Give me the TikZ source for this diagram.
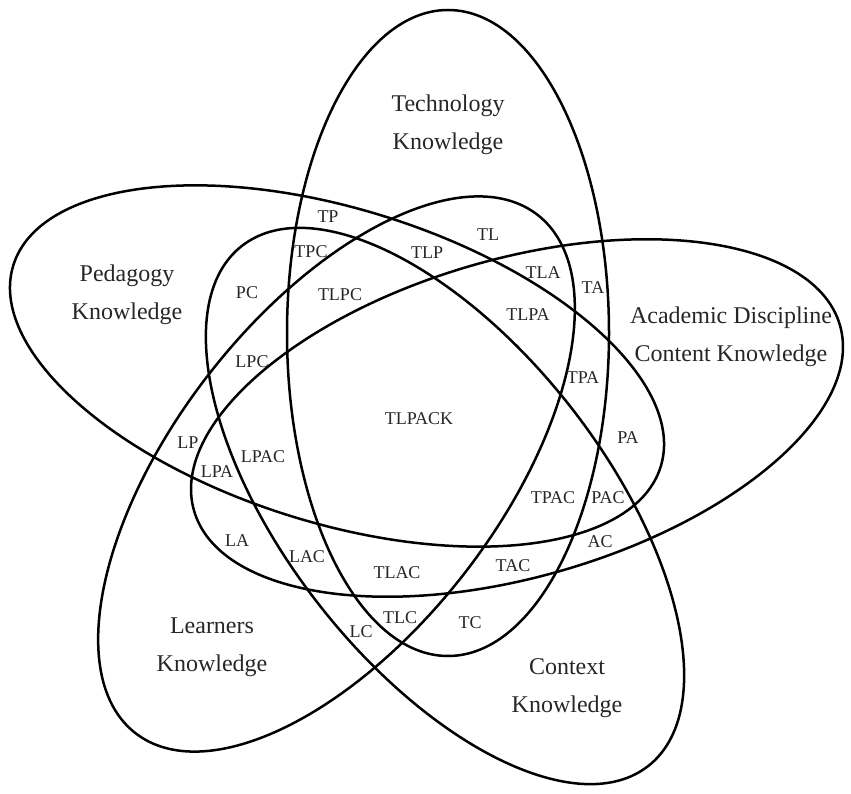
\documentclass[tikz,border=0pt]{standalone}
\usepackage{fontspec}
\setmainfont{Liberation Serif}
\tikzstyle{set line}=[draw=black,line width=2.5pt]
\tikzstyle{set name}=[align=center,text=black!85,font=\fontsize{24}{38}\selectfont]
\tikzstyle{region}=[inner sep=0pt,text=black!85,font=\fontsize{18}{18}\selectfont]

\begin{document}
\begin{tikzpicture}[x=1pt,y=-1pt]
		\useasboundingbox (0,0) rectangle (851,794);

		% the five sets
		\draw[set line] (448,333) ellipse [x radius=161,y radius=323];
		\draw[set line,rotate around={-17.3:(337,366)}] (337,366) ellipse [x radius=339,y radius=157];
		\draw[set line,rotate around={16:(517,418)}] (517,418) ellipse [x radius=336,y radius=159];
		\draw[set line,rotate around={52.2:(336.5,474)}] (336.5,474) ellipse [x radius=328,y radius=162];
		\draw[set line,rotate around={-52:(445,506)}] (445,506) ellipse [x radius=330,y radius=160];

		% set names
		\node(tech)[set name] at (448,125) {Technology\\Knowledge};
		\node(peda)[set name] at (127,295) {Pedagogy\\Knowledge};
		\node(acad)[set name] at (731,337) {Academic Discipline\\Content Knowledge};
		\node(lear)[set name] at (212,647) {Learners\\Knowledge};
		\node(cont)[set name] at (567,688) {Context\\Knowledge};

		% overlaps
		\node(tp)[region] at (328,217) {TP};
		\node(tpc)[region] at (311,252) {TPC};
		\node(tlp)[region] at (427,253) {TLP};
		\node(tl)[region] at (488,235) {TL};
		\node(tla)[region] at (543,273) {TLA};
		\node(ta)[region] at (593,288) {TA};
		\node(pc)[region] at (247,293) {PC};
		\node(tlpc)[region] at (340,295) {TLPC};
		\node(tlpa)[region] at (528,315) {TLPA};
		\node(lpc)[region] at (252,362) {LPC};
		\node(tpa)[region] at (583,378) {TPA};
		\node(tlpack)[region] at (419,419) {TLPACK};
		\node(pa)[region] at (628,438) {PA};
		\node(lp)[region] at (188,443) {LP};
		\node(lpac)[region] at (263,457) {LPAC};
		\node(lpa)[region] at (217,472) {LPA};
		\node(tpac)[region] at (553,498) {TPAC};
		\node(pac)[region] at (608,498) {PAC};
		\node(la)[region] at (237,541) {LA};
		\node(ac)[region] at (600,542) {AC};
		\node(lac)[region] at (307,557) {LAC};
		\node(tac)[region] at (513,566) {TAC};
		\node(tlac)[region] at (397,573) {TLAC};
		\node(tlc)[region] at (400,618) {TLC};
		\node(tc)[region] at (470,623) {TC};
		\node(lc)[region] at (361,632) {LC};

\end{tikzpicture}
\end{document}
